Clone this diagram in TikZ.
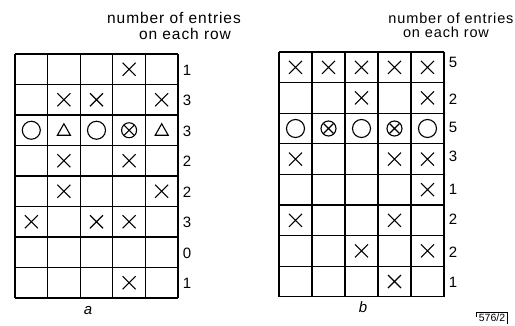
\documentclass[tikz,border=0pt]{standalone}
\usepackage{fontspec}
\setmainfont{Liberation Sans}
\usetikzlibrary{shapes.geometric}
\begin{document}
\begin{tikzpicture}[x=1pt,y=-1pt,
  gridline/.style={line width=1.2pt},
  sym/.style={line width=1.1pt},
  head/.style={font=\fontsize{15.5}{16}\selectfont\addfontfeature{LetterSpace=6}, inner sep=0pt},
  headb/.style={font=\fontsize{14.5}{15}\selectfont\addfontfeature{LetterSpace=6}, inner sep=0pt},
  cnt/.style={font=\fontsize{15}{15}\selectfont, inner sep=0pt},
  capt/.style={font=\itshape\fontsize{15}{15}\selectfont, inner sep=0pt},
  xc/.pic={\draw[sym] (-6.5,-6.5) -- (6.5,6.5) (-6.5,6.5) -- (6.5,-6.5);},
  oc/.pic={\draw[sym] (0,0) circle (9);},
  oxc/.pic={\draw[sym] (0,0) circle (7.5); \draw[sym] (-5,-5) -- (5,5) (-5,5) -- (5,-5);},
  tc/.pic={\draw[sym, line join=miter] (0,-6.5) -- (6.5,5) -- (-6.5,5) -- cycle;}
]
\useasboundingbox (0,0) rectangle (515,325);
% ---------- grid a ----------
\foreach \i in {0,...,5} \draw[gridline] ({15+32.6*\i},54) -- ({15+32.6*\i},298);
\foreach \j in {0,...,8} \draw[gridline] (15,{54+30.5*\j}) -- (178,{54+30.5*\j});
\foreach \c/\r in {4/1, 2/2,3/2,5/2, 2/4,4/4, 2/5,5/5, 1/6,3/6,4/6, 4/8}
  \pic at ({15+32.6*(\c-0.5)},{54+30.5*(\r-0.5)}) {xc};
\foreach \c in {1,3} \pic at ({15+32.6*(\c-0.5)},{54+30.5*2.5}) {oc};
\foreach \c in {2,5} \pic at ({15+32.6*(\c-0.5)},{54+30.5*2.5}) {tc};
\pic at ({15+32.6*3.5},{54+30.5*2.5}) {oxc};
\foreach \r/\n in {1/1,2/3,3/3,4/2,5/2,6/3,7/0,8/1}
  \node[cnt] (na\r) at (187,{54+30.5*(\r-0.5)+1}) {\n};
\node[head] (ha1) at (174,18) {number of entries};
\node[head] (ha2) at (185,34) {on each row};
\node[capt] (ca) at (88,311) {a};
% ---------- grid b ----------
\foreach \i in {0,...,5} \draw[gridline] ({279+33*\i},52) -- ({279+33*\i},297);
\foreach \j in {0,...,8} \draw[gridline] (279,{52+30.6*\j}) -- (444,{52+30.6*\j});
\foreach \c/\r in {1/1,2/1,3/1,4/1,5/1, 3/2,5/2, 1/4,4/4,5/4, 5/5, 1/6,4/6, 3/7,5/7, 4/8}
  \pic at ({279+33*(\c-0.5)},{52+30.6*(\r-0.5)}) {xc};
\foreach \c in {1,3,5} \pic at ({279+33*(\c-0.5)},{52+30.6*2.5}) {oc};
\foreach \c in {2,4} \pic at ({279+33*(\c-0.5)},{52+30.6*2.5}) {oxc};
\foreach \r/\n/\dy in {1/5/-5,2/2/1,3/5/-1,4/3/-3,5/1/0,6/2/-1,7/2/1,8/1/1}
  \node[cnt] (nb\r) at (453,{52+30.6*(\r-0.5)+\dy}) {\n};
\node[headb] (hb1) at (451,18) {number of entries};
\node[headb] (hb2) at (446,32) {on each row};
\node[capt] (cb) at (363,307) {b};
% ---------- tag ----------
\node[font=\fontsize{10.5}{10.5}\selectfont, inner sep=0pt] (tag) at (492,318) {576/2};
\draw[line width=0.8pt] ([xshift=-2pt,yshift=2pt]tag.north west) coordinate (t1) -- ([xshift=2pt,yshift=2pt]tag.north east) coordinate (t2);
\draw[line width=0.8pt] (t1) -- ++(0,5);
\draw[line width=0.8pt] (t2) -- ++(0,12);
\end{tikzpicture}
\end{document}
